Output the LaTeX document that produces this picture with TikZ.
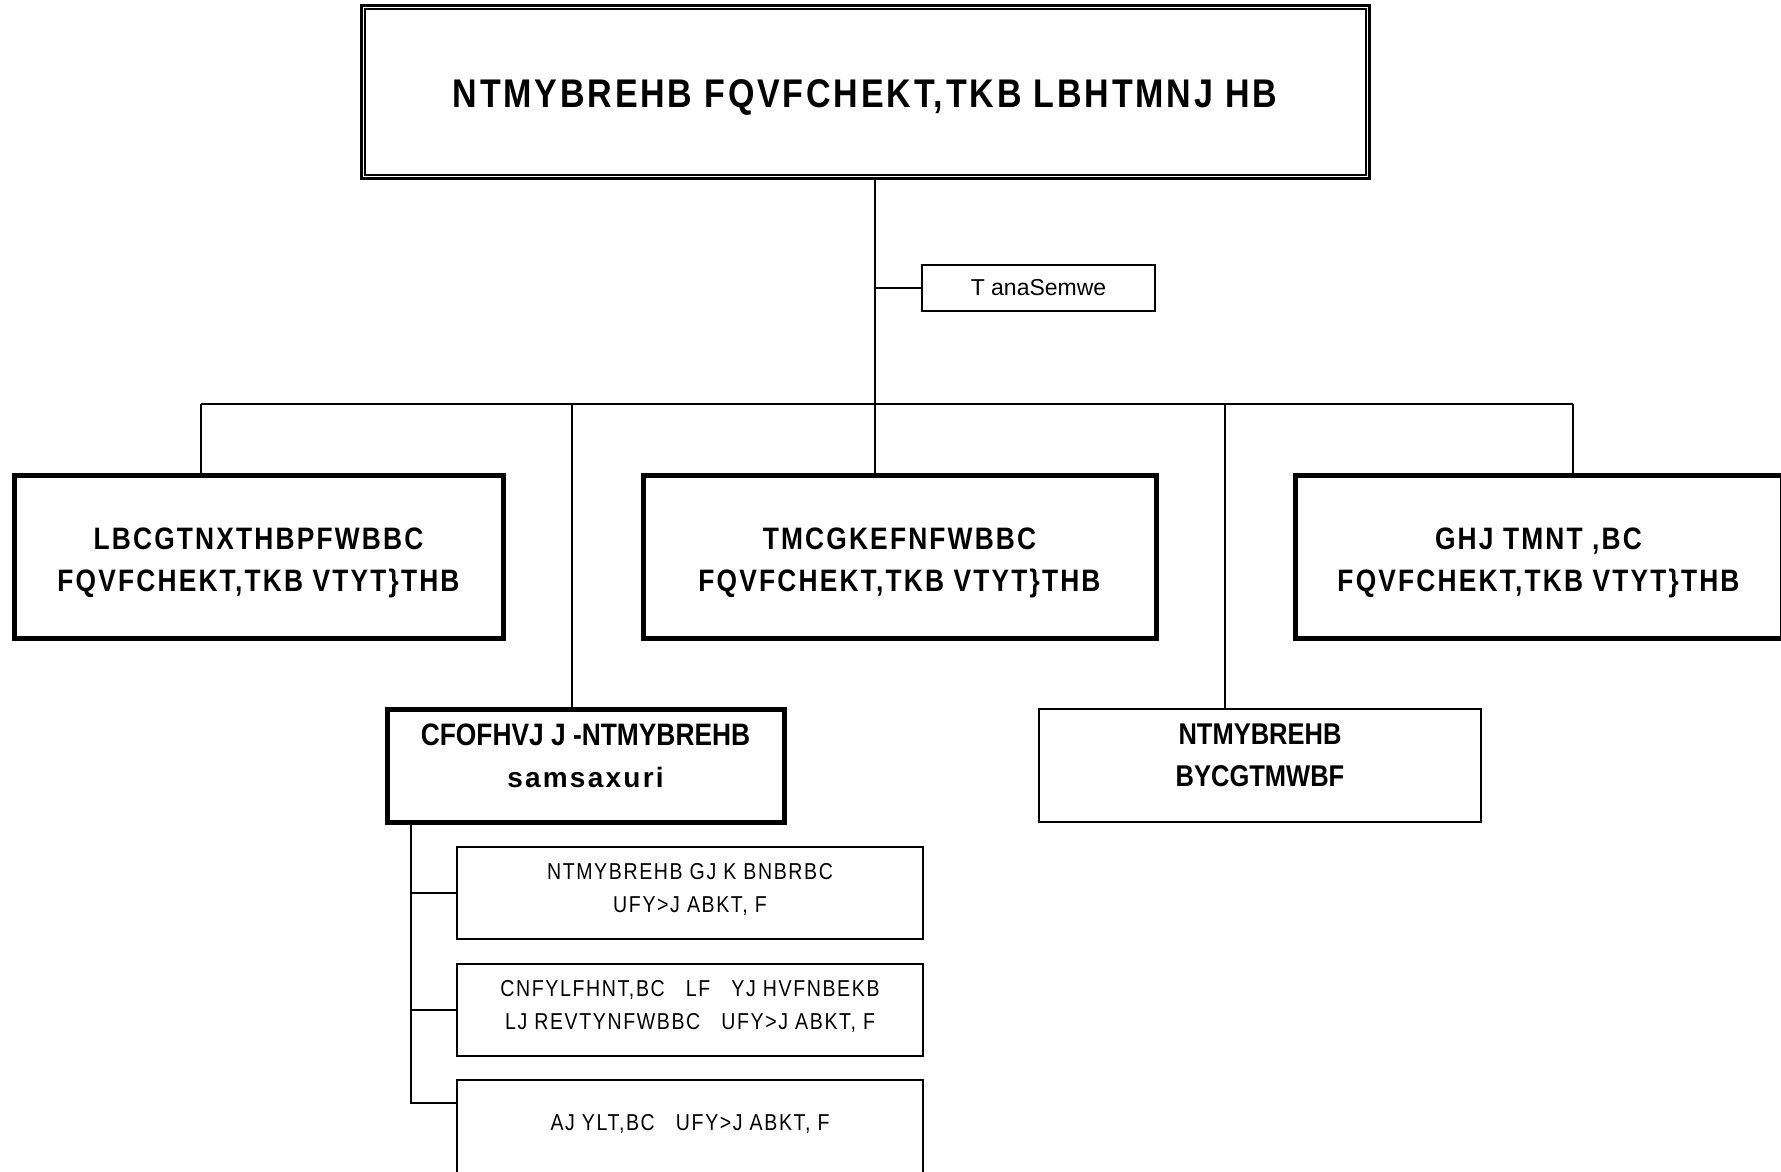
\documentclass[tikz,border=0pt]{standalone}
\usepackage{fontspec}
\setmainfont{Liberation Sans}
\newfontfamily\narrowfont[FakeStretch=0.85]{Liberation Sans}
\newfontfamily\spacedfont[FakeStretch=0.85,LetterSpace=7]{Liberation Sans}
\newfontfamily\widefont[LetterSpace=8]{Liberation Sans}

\begin{document}
\begin{tikzpicture}[x=1pt,y=-1pt,
  thickbox/.style={draw,line width=5pt,align=center,inner sep=0pt,
    font=\spacedfont\bfseries\fontsize{31}{42}\selectfont},
  thinbox/.style={draw,line width=2pt,align=center,inner sep=0pt},
  leafbox/.style={thinbox,minimum width=466pt,minimum height=92pt,
    font=\spacedfont\fontsize{23}{33}\selectfont},
  link/.style={line width=1.6pt}]

\useasboundingbox (0,0) rectangle (1781,1172);

\node[draw,line width=3pt,minimum width=1008pt,minimum height=172pt,
  font=\spacedfont\bfseries\fontsize{40}{48}\selectfont] (head) at (865,92)
  {\rule{0pt}{38pt}NTMYBREHB FQVFCHEKT,TKB LBHTMNJ HB};
\draw[line width=2pt] ([xshift=5pt,yshift=-5pt]head.north west) rectangle ([xshift=-5pt,yshift=5pt]head.south east);

\node[thinbox,minimum width=233pt,minimum height=46pt,
  font=\fontsize{23}{28}\selectfont] (tana) at (1038.5,288) {T anaSemwe};

\node[thickbox,minimum width=489pt,minimum height=163pt] (dept1) at (258.5,556.5)
  {\rule{0pt}{35pt}LBCGTNXTHBPFWBBC\\FQVFCHEKT,TKB VTYT\}THB};
\node[thickbox,minimum width=513pt,minimum height=163pt] (dept2) at (899.5,556.5)
  {\rule{0pt}{35pt}TMCGKEFNFWBBC\\FQVFCHEKT,TKB VTYT\}THB};
\node[thickbox,minimum width=487pt,minimum height=163pt] (dept3) at (1538.5,556.5)
  {\rule{0pt}{35pt}GHJ TMNT ,BC\\FQVFCHEKT,TKB VTYT\}THB};

\node[thickbox,minimum width=397pt,minimum height=113pt,text depth=20pt,
  font=\narrowfont\bfseries\fontsize{31}{42}\selectfont] (sub) at (585.5,765.5)
  {CFOFHVJ J -NTMYBREHB\\{\widefont\bfseries\fontsize{28}{40}\selectfont samsaxuri}};
\node[thinbox,minimum width=442pt,minimum height=113pt,text depth=20pt,
  font=\narrowfont\bfseries\fontsize{30}{42}\selectfont] (anal) at (1260,765.5)
  {NTMYBREHB\\BYCGTMWBF};

\node[leafbox,text depth=10pt] (leaf1) at (690,893) {NTMYBREHB GJ K BNBRBC\\UFY>J ABKT, F};
\node[leafbox,text depth=10pt] (leaf2) at (690,1010) {CNFYLFHNT,BC~~~LF~~~YJ HVFNBEKB\\LJ REVTYNFWBBC~~~UFY>J ABKT, F};
\node[leafbox,minimum height=130pt,text depth=46pt] (leaf3) at (690,1145) {AJ YLT,BC~~~UFY>J ABKT, F};

\coordinate (trunk) at (875,404);
\coordinate (west) at (201,404);
\coordinate (east) at (1573,404);
\coordinate (dropsub) at (572,404);
\coordinate (dropanal) at (1225,404);
\coordinate (spine) at (411,1103);

\draw[link] (head.south -| trunk) -- (trunk);
\draw[link] (tana.west -| trunk) -- (tana.west);
\draw[link] (west) -- (east);
\draw[link] (west) -- (west |- dept1.north);
\draw[link] (trunk) -- (trunk |- dept2.north);
\draw[link] (east) -- (east |- dept3.north);
\draw[link] (dropsub) -- (dropsub |- sub.north);
\draw[link] (dropanal) -- (dropanal |- anal.north);

\draw[link] (sub.south -| spine) -- (spine) -- (spine -| leaf3.west);
\draw[link] (leaf1.west -| spine) -- (leaf1.west);
\draw[link] (leaf2.west -| spine) -- (leaf2.west);

\end{tikzpicture}
\end{document}
